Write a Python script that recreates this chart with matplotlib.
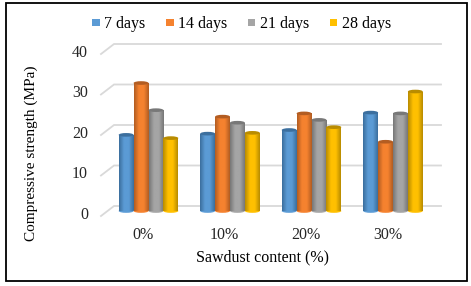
import matplotlib
matplotlib.use("Agg")
import matplotlib.pyplot as plt
from matplotlib.colors import LinearSegmentedColormap
from matplotlib.patches import Ellipse, Rectangle, Patch
import numpy as np

plt.rcParams["font.family"] = ["Liberation Serif", "DejaVu Serif"]

### data ###
categories = ["0%", "10%", "20%", "30%"]
series_names = ["7 days", "14 days", "21 days", "28 days"]
days_7 = [18.8, 19.1, 20.0, 24.3]
days_14 = [31.6, 23.3, 24.1, 17.1]
days_21 = [24.9, 21.8, 22.5, 24.1]
days_28 = [18.0, 19.3, 20.7, 29.5]
y_ticks = [0, 10, 20, 30, 40]

### style ###
colors = ["#5b9bd5", "#f5822f", "#a5a5a5", "#ffc000"]
dark_colors = ["#3c6f9e", "#b35d22", "#787878", "#b98c00"]
W, H = 471, 286
PX_X = 81.5   # pixels per category
PX_Y = 4.05   # pixels per MPa
X0, Y0 = 148.5, 211  # pixel position of category 0, value 0
bar_w = 14.9 / PX_X
depth = 5 / PX_Y     # 3d look : walls are shifted from the bars plane
xlim = (-0.65, 3.65)

fig = plt.figure(figsize=(W / 100, H / 100), dpi=100)
left = X0 + xlim[0] * PX_X
right = X0 + xlim[1] * PX_X
ax = fig.add_axes([left / W, 1 - Y0 / H, (right - left) / W, 40 * PX_Y / H])
ax.axis("off")

# outer frame
fig.add_artist(Rectangle((5.5 / W, 1 - 280.7 / H), 461.2 / W, 277.4 / H, transform=fig.transFigure,
                         fill=False, edgecolor="black", linewidth=1.3))

# walls
for t in y_ticks:
    ax.plot([-0.583, -0.423, 3.589], [t - depth, t + depth, t + depth], color="#d9d9d9",
            linewidth=1.3, clip_on=False, zorder=1, solid_joinstyle="miter")
    ax.text(-0.742, t - 0.25 - depth * 0.5, str(t), ha="right", va="center", fontsize=11.5, color="#262626")

# cylinders
all_series = [days_7, days_14, days_21, days_28]
for s, values in enumerate(all_series):
    cmap = LinearSegmentedColormap.from_list("c", [dark_colors[s], colors[s], colors[s], dark_colors[s]])
    offset = (s - 1.5) * bar_w
    bars = ax.bar(np.arange(len(categories)) + offset, values, width=bar_w, color=colors[s], zorder=3 + s)
    for i, b in enumerate(bars):
        x0 = b.get_x()
        w = b.get_width()
        bottom = Ellipse((x0 + w / 2, 0), w, 0.9, facecolor=colors[s], edgecolor="none", zorder=3 + s, clip_on=False)
        ax.add_patch(bottom)
        grad = np.linspace(0, 1, 32).reshape(1, -1)
        im = ax.imshow(grad, cmap=cmap, extent=(x0, x0 + w, 0, values[i]), aspect="auto", zorder=3 + s)
        im.set_clip_path(b)
        top = Ellipse((x0 + w / 2, values[i]), w, 0.9, facecolor=dark_colors[s], edgecolor="none", zorder=3 + s,
                      clip_on=False)
        ax.add_patch(top)

ax.set_xlim(xlim)
ax.set_ylim(0, 40)

# category labels
for i, c in enumerate(categories):
    ax.text(i - 5.5 / PX_X, -6.0, c, ha="center", va="center", fontsize=11.5, color="#262626")

fig.text(262 / W, 1 - 257 / H, "Sawdust content (%)", ha="center", va="center", fontsize=11.5)
fig.text(31 / W, 1 - 153 / H, "Compressive strength (MPa)", ha="center", va="center", rotation=90, fontsize=11)

handles = [Patch(facecolor=colors[i], label=series_names[i]) for i in range(4)]
fig.legend(handles=handles, ncol=4, loc="center", bbox_to_anchor=(241.5 / W, 1 - 24 / H), frameon=False,
           fontsize=11.5, handlelength=0.47, handleheight=0.346, handletextpad=0.27, columnspacing=1.3)

fig.savefig("out.png", dpi=100)
